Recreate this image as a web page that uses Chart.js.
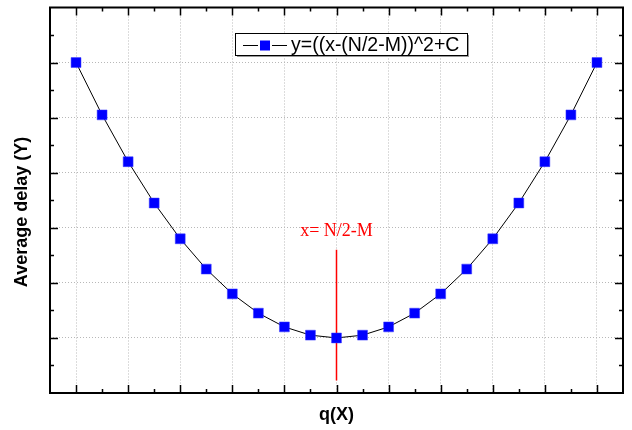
<!DOCTYPE html>
<html lang="en">
  <head>
    <meta charset="UTF-8" />
    <title>Average delay</title>
    <style>
      html,
      body {
        margin: 0;
        padding: 0;
        background: #fff;
      }
      canvas {
        display: block;
      }
    </style>
  </head>
  <body>
    <canvas id="delayChart" width="632" height="430"></canvas>
    <script src="https://cdn.jsdelivr.net/npm/chart.js"></script>
    <script>
      // q values and the measured average delay at each one
      const qValues = [0, 1, 2, 3, 4, 5, 6, 7, 8, 9, 10, 11, 12, 13, 14, 15, 16, 17, 18, 19, 20];
      const delayValues = [120, 101, 84, 69, 56, 45, 36, 29, 24, 21, 20, 21, 24, 29, 36, 45, 56, 69, 84, 101, 120];

      // vertical marker at the minimum
      const markerQ = 10;
      const markerSpan = [4.5, 52];
      const markerLabelY = 57;

      const seriesLabel = "y=((x-(N/2-M))^2+C";
      const markerLabel = "x= N/2-M";
      const xTitle = "q(X)";
      const yTitle = "Average delay (Y)";

      const sans = "'Liberation Sans', Arial, sans-serif";
      const serif = "'Liberation Serif', 'Times New Roman', serif";

      function gridColor(isMajor) {
        return (ctx) => (isMajor(ctx.tick.value) ? "#b8b8b8" : "rgba(0,0,0,0)");
      }
      const xMajor = (v) => v >= 0 && v <= 20 && v % 2 === 0;
      const yMajor = (v) => v > 0 && v < 140 && v % 20 === 0;

      // frame, inward ticks on all four sides, titles, marker label and legend
      const decorPlugin = {
        id: "decor",
        afterDraw(chart) {
          const { ctx, chartArea: a, scales } = chart;
          const x = scales.x;
          const y = scales.y;
          ctx.save();

          ctx.strokeStyle = "#000";
          ctx.lineWidth = 1.5;
          ctx.beginPath();
          x.ticks.forEach((t) => {
            if (t.value <= x.min || t.value >= x.max) return;
            const px = Math.round(x.getPixelForValue(t.value)) + 0.5;
            const len = xMajor(t.value) ? 8 : 4;
            ctx.moveTo(px, a.bottom);
            ctx.lineTo(px, a.bottom - len);
            ctx.moveTo(px, a.top);
            ctx.lineTo(px, a.top + len);
          });
          y.ticks.forEach((t) => {
            if (t.value <= y.min || t.value >= y.max) return;
            const py = Math.round(y.getPixelForValue(t.value)) + 0.5;
            const len = yMajor(t.value) ? 8 : 4;
            ctx.moveTo(a.left, py);
            ctx.lineTo(a.left + len, py);
            ctx.moveTo(a.right, py);
            ctx.lineTo(a.right - len, py);
          });
          ctx.stroke();

          ctx.lineWidth = 2;
          ctx.strokeRect(a.left, a.top, a.right - a.left, a.bottom - a.top);

          // axis titles
          ctx.fillStyle = "#000";
          ctx.textAlign = "center";
          ctx.textBaseline = "middle";
          ctx.font = "bold 18px " + sans;
          ctx.fillText(xTitle, (a.left + a.right) / 2, 415);
          ctx.save();
          ctx.translate(22, 212);
          ctx.rotate(-Math.PI / 2);
          ctx.font = "bold 18px " + sans;
          ctx.fillText(yTitle, 0, 0);
          ctx.restore();

          // marker label
          ctx.fillStyle = "#ff0000";
          ctx.font = "18px " + serif;
          ctx.textBaseline = "alphabetic";
          ctx.fillText(markerLabel, x.getPixelForValue(markerQ), y.getPixelForValue(markerLabelY));

          // legend box
          const lx = 235, ly = 33, lw = 232, lh = 22;
          ctx.fillStyle = "#9a9a9a";
          ctx.fillRect(lx + 2, ly + 2, lw, lh);
          ctx.fillStyle = "#fff";
          ctx.fillRect(lx, ly, lw, lh);
          ctx.lineWidth = 1;
          ctx.strokeStyle = "#000";
          ctx.strokeRect(lx + 0.5, ly + 0.5, lw, lh);
          const cy = ly + 12.5;
          ctx.beginPath();
          ctx.moveTo(lx + 8, cy);
          ctx.lineTo(lx + 23, cy);
          ctx.moveTo(lx + 37, cy);
          ctx.lineTo(lx + 52, cy);
          ctx.stroke();
          ctx.fillStyle = "#0000ff";
          ctx.fillRect(lx + 25, cy - 5, 10, 10);
          ctx.fillStyle = "#000";
          ctx.font = "19.5px " + sans;
          ctx.textAlign = "left";
          ctx.textBaseline = "middle";
          ctx.fillText(seriesLabel, lx + 56, cy);

          ctx.restore();
        },
      };

      new Chart(document.getElementById("delayChart"), {
        type: "scatter",
        data: {
          datasets: [
            {
              label: seriesLabel,
              data: qValues.map((q, i) => ({ x: q, y: delayValues[i] })),
              showLine: true,
              borderColor: "#000",
              borderWidth: 1,
              pointStyle: "rect",
              pointRadius: 7,
              pointBackgroundColor: "#0000ff",
              pointBorderColor: "#3a3aff",
              pointBorderWidth: 0.5,
              order: 0,
            },
            {
              label: "marker",
              data: markerSpan.map((v) => ({ x: markerQ, y: v })),
              showLine: true,
              borderColor: "#ff0000",
              borderWidth: 1.5,
              pointRadius: 0,
              order: 1,
            },
          ],
        },
        plugins: [decorPlugin],
        options: {
          responsive: false,
          animation: false,
          devicePixelRatio: 1,
          layout: { padding: { top: 7, right: 9, left: 0, bottom: 0 } },
          plugins: {
            legend: { display: false },
            tooltip: { enabled: false },
          },
          scales: {
            x: {
              type: "linear",
              min: -1,
              max: 21,
              ticks: { stepSize: 1, display: false },
              grid: { color: gridColor(xMajor), drawTicks: false },
              border: { display: false, dash: [1, 2] },
              afterFit: (s) => {
                s.height = 37;
              },
            },
            y: {
              type: "linear",
              min: 0,
              max: 140,
              ticks: { stepSize: 10, display: false },
              grid: { color: gridColor(yMajor), drawTicks: false },
              border: { display: false, dash: [1, 2] },
              afterFit: (s) => {
                s.width = 50;
              },
            },
          },
        },
      });
    </script>
  </body>
</html>
